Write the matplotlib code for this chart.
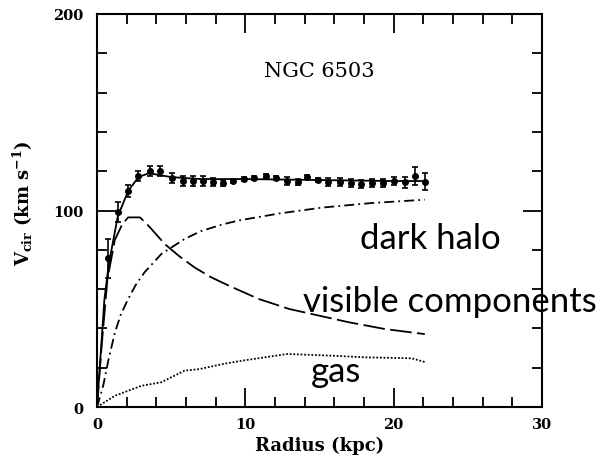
import numpy as np
import matplotlib
matplotlib.use("Agg")
import matplotlib.pyplot as plt

# Observed rotation curve of NGC 6503
radius = [0.76, 1.39, 2.1, 2.77, 3.56, 4.27, 5.03, 5.79, 6.48, 7.15, 7.85, 8.5,
          9.19, 9.93, 10.6, 11.39, 12.1, 12.84, 13.56, 14.18, 14.9, 15.6, 16.4,
          17.1, 17.8, 18.54, 19.26, 20.0, 20.74, 21.46, 22.13]
v_obs = [75.7, 99.4, 110.0, 117.7, 120.3, 120.3, 116.4, 115.2, 115.2, 115.2,
         114.3, 114.0, 115.2, 116.0, 116.4, 117.4, 116.4, 115.2, 114.4, 116.9,
         115.7, 114.7, 114.3, 114.0, 113.5, 114.0, 113.8, 115.2, 114.3, 117.7, 114.7]
v_err = [10, 5, 3, 2.5, 2.5, 2.5, 2.5, 2.5, 2.5, 2.5, 2, 1.5, 1, 1, 1, 1, 1,
         2, 1.5, 1, 1, 2, 2, 2, 2, 2, 2, 2, 3, 4.5, 4.5]

# Model components
r_fit = [0, 0.5, 0.8, 1.4, 2.1, 2.8, 3.5, 5.0, 7.0, 10.0, 15.0, 20.0, 22.2]
v_fit = [0, 55, 73, 97, 110, 117, 119, 117, 116, 116, 115.5, 115, 115]

r_disk = [0, 0.3, 0.7, 1.2, 1.7, 2.1, 2.9, 3.5, 4.56, 5.5, 6.58, 7.7, 8.9,
          10.9, 12.95, 14.97, 17.0, 19.4, 22.1]
v_disk = [0, 30, 65, 85, 93, 96.5, 96.5, 92, 83, 77, 71, 66, 61.7,
          55, 49.9, 46.5, 43.1, 39.7, 37.1]

r_halo = [0, 0.42, 0.8, 1.21, 1.6, 2.1, 2.6, 3.2, 4.34, 5.9, 7.0, 8.5, 9.6,
          12.3, 15.2, 18.5, 22.1]
v_halo = [0, 11, 25, 38, 47, 55, 62, 68.5, 77.9, 85.5, 89.5, 93, 95,
          98.5, 101.5, 103.8, 105.5]

r_gas = [0, 1.2, 2.1, 3.0, 4.34, 5.9, 6.9, 8.5, 9.8, 12.84, 15.9, 18.1, 21.2, 22.2]
v_gas = [0, 5.7, 8.3, 10.8, 12.6, 18.5, 19.3, 21.9, 23.6, 27.0, 26.1, 25.3, 24.8, 22.7]

serif = 'DejaVu Serif'
plt.rcParams['mathtext.fontset'] = 'custom'
plt.rcParams['mathtext.rm'] = 'DejaVu Serif:bold'
plt.rcParams['mathtext.default'] = 'rm'

fig = plt.figure(figsize=(6, 4.6), dpi=100)
ax = fig.add_axes([0.1617, 0.113, 0.7416, 0.8544])

ax.plot(r_fit, v_fit, color='black', lw=1.3)
ax.errorbar(radius, v_obs, yerr=v_err, fmt='o', color='black', ms=4,
            elinewidth=1.2, capsize=2.5, capthick=1.2)
ax.plot(r_disk, v_disk, color='black', lw=1.3, dashes=(12, 3))
ax.plot(r_halo, v_halo, color='black', lw=1.3, dashes=(5.5, 2.3, 1, 2.3))
ax.plot(r_gas, v_gas, color='black', lw=1.3, linestyle=(0, (1, 1)))

ax.set_xlim(0, 30)
ax.set_ylim(0, 200)
ax.set_xticks([0, 10, 20, 30])
ax.set_xticks(np.arange(0, 31, 2), minor=True)
ax.set_yticks([0, 100, 200])
ax.set_yticks(np.arange(0, 201, 20), minor=True)
ax.tick_params(which='both', direction='in', top=True, right=True, width=1.3)
ax.tick_params(which='major', length=14, labelsize=10.5)
ax.tick_params(axis='x', which='major', pad=7)
ax.tick_params(axis='y', which='major', pad=10)
ax.tick_params(which='minor', length=7.5)
for lab in ax.get_xticklabels() + ax.get_yticklabels():
    lab.set_fontfamily(serif)
    lab.set_fontweight('bold')
for sp in ax.spines.values():
    sp.set_linewidth(1.5)

ax.set_xlabel('Radius (kpc)', fontsize=13, fontfamily=serif, fontweight='bold')
ax.xaxis.set_label_coords(0.5, -0.074)
ax.set_ylabel('V$_{cir}$ (km s$^{-1}$)', fontsize=13, fontfamily=serif,
              fontweight='bold')
ax.yaxis.set_label_coords(-0.14, 0.52)

ax.text(14.97, 171, 'NGC 6503', fontsize=15, fontfamily=serif,
        ha='center', va='center')

ax.text(22.5, 80.8, 'dark halo', fontsize=25, fontfamily='Lato',
        ha='center', va='baseline', clip_on=False)
ax.text(23.8, 49, 'visible components', fontsize=25, fontfamily='Lato',
        ha='center', va='baseline', clip_on=False)
ax.text(16.15, 13.4, 'gas', fontsize=25, fontfamily='Lato',
        ha='center', va='baseline', clip_on=False)

fig.savefig('out.png', dpi=100)
